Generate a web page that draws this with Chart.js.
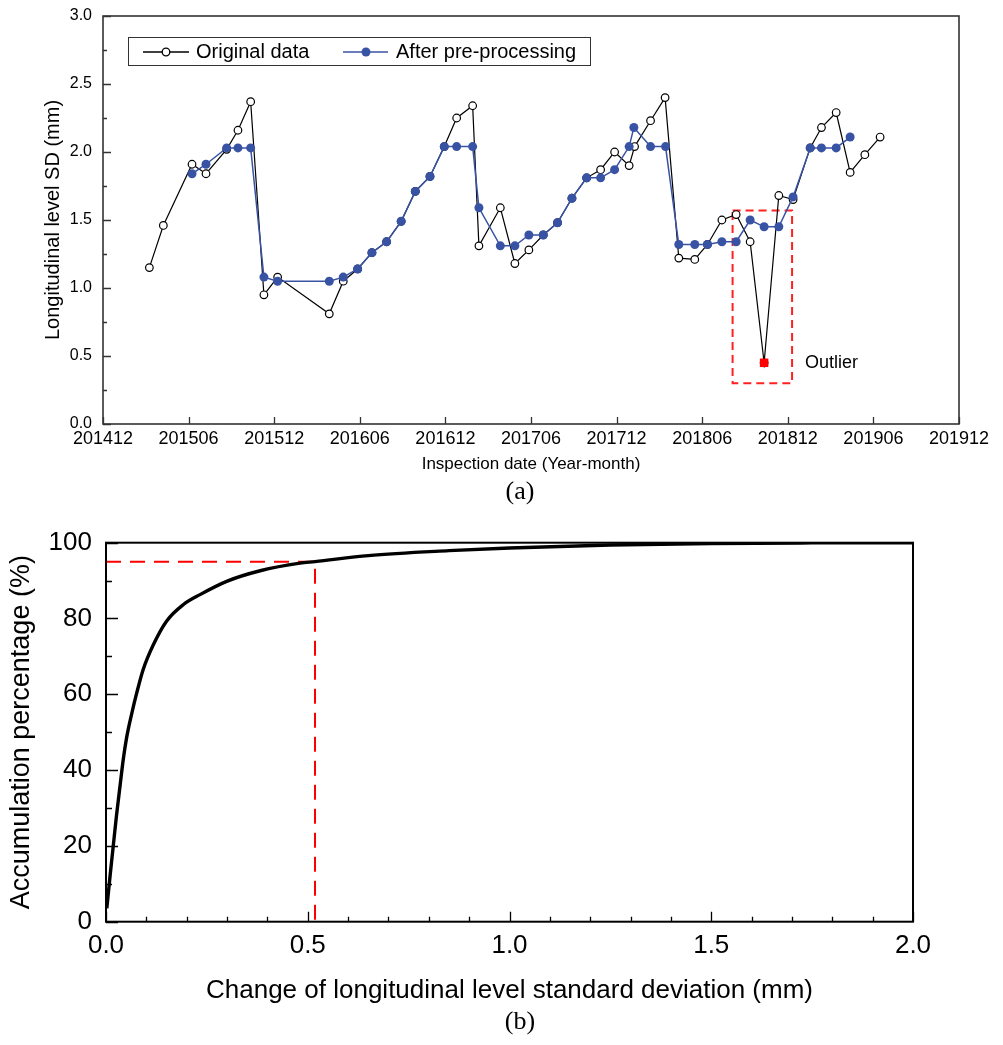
<!DOCTYPE html>
<html>
<head>
<meta charset="utf-8">
<script src="https://cdn.jsdelivr.net/npm/chart.js@4/dist/chart.umd.min.js"></script>
<style>
  html, body { margin: 0; padding: 0; background: #fff; }
  #wrap { position: relative; width: 1003px; height: 1045px; }
  canvas { position: absolute; left: 0; }
  #chartA { top: 0; }
  #chartB { top: 500px; }
  .cap { position: absolute; width: 60px; left: 490px; text-align: center;
         font-family: 'Liberation Serif', 'Times New Roman', serif; font-size: 26px; color: #000; }
</style>
</head>
<body>
<div id="wrap">
  <canvas id="chartA" width="1003" height="500"></canvas>
  <canvas id="chartB" width="1003" height="520"></canvas>
  <div class="cap" style="top:476px">(a)</div>
  <div class="cap" style="top:1006px">(b)</div>
</div>
<script>
// ── Data: (a) longitudinal level SD, x = months after 2014-12 ────────────────
const xTickLabelsA = ['201412', '201506', '201512', '201606', '201612', '201706',
                      '201712', '201806', '201812', '201906', '201912'];

const origMonth = [3.25, 4.23, 6.24, 7.22, 8.67, 9.46, 10.35, 11.28, 12.24, 15.86, 16.84,
                   17.85, 18.85, 19.88, 20.9, 21.89, 22.92, 23.92, 24.79, 25.91, 26.35,
                   27.85, 28.87, 29.85, 30.86, 31.86, 32.87, 33.9, 34.88, 35.86, 36.88,
                   37.26, 38.38, 39.4, 40.36, 41.48, 42.37, 43.38, 44.38, 45.36, 46.34,
                   47.37, 48.37, 49.57, 50.36, 51.39, 52.37, 53.4, 54.47];
const origSD    = [1.15, 1.46, 1.91, 1.84, 2.02, 2.16, 2.37, 0.95, 1.08, 0.81, 1.05,
                   1.14, 1.26, 1.34, 1.49, 1.71, 1.82, 2.04, 2.25, 2.34, 1.31,
                   1.59, 1.18, 1.28, 1.39, 1.48, 1.66, 1.81, 1.87, 2.00, 1.90,
                   2.04, 2.23, 2.40, 1.22, 1.21, 1.32, 1.50, 1.54, 1.34, 0.45,
                   1.68, 1.65, 2.03, 2.18, 2.29, 1.85, 1.98, 2.11];

const procMonth = [6.24, 7.22, 8.67, 9.46, 10.35, 11.28, 12.24, 15.86, 16.84, 17.85,
                   18.85, 19.88, 20.9, 21.89, 22.92, 23.92, 24.79, 25.91, 26.35, 27.85,
                   28.87, 29.85, 30.86, 31.86, 32.87, 33.9, 34.88, 35.86, 36.88, 37.21,
                   38.38, 39.43, 40.36, 41.48, 42.37, 43.38, 44.38, 45.36, 46.34, 47.37,
                   48.37, 49.57, 50.36, 51.39, 52.37];
const procSD    = [1.84, 1.91, 2.03, 2.03, 2.03, 1.08, 1.05, 1.05, 1.08, 1.14,
                   1.26, 1.34, 1.49, 1.71, 1.82, 2.04, 2.04, 2.04, 1.59, 1.31,
                   1.31, 1.39, 1.39, 1.48, 1.66, 1.81, 1.81, 1.87, 2.04, 2.18,
                   2.04, 2.04, 1.32, 1.32, 1.32, 1.34, 1.34, 1.50, 1.45, 1.45,
                   1.67, 2.03, 2.03, 2.03, 2.11];

const outlierMonth = [46.34];
const outlierSD    = [0.45];
const boxMonth = [44.13, 48.3, 48.3, 44.13, 44.13];
const boxSD    = [1.57, 1.57, 0.30, 0.30, 1.57];
const outlierLabel = { text: 'Outlier', x: 49.2, y: 0.45 };

// ── Data: (b) cumulative distribution ────────────────────────────────────────
const changeSD = [0.002, 0.010, 0.018, 0.026, 0.035, 0.043, 0.051, 0.064, 0.076, 0.092,
                  0.117, 0.150, 0.192, 0.233, 0.299, 0.382, 0.481, 0.518, 0.65, 0.85,
                  1.0, 1.25, 1.5, 1.75, 2.0];
const accumPct = [3.5, 12, 20, 28, 36, 43, 48.5, 55, 60.3, 66.5,
                  73, 79.3, 83.7, 86.3, 89.8, 92.6, 94.6, 95.0, 96.6, 97.9,
                  98.6, 99.4, 99.8, 99.95, 100];
const refX = [0, 0.518, 0.518];
const refY = [95, 95, 0];

// ── Helpers ──────────────────────────────────────────────────────────────────
const SANS = "'Liberation Sans', Arial, sans-serif";
const BLUE = '#3953a4';
const pts = (xs, ys) => xs.map((x, i) => ({ x, y: ys[i] }));

// frame + inward ticks, drawn from the scales
function framePlugin(cfg) {
  return {
    id: 'frameTicks',
    afterDatasetsDraw(chart) {
      const { ctx, chartArea: a, scales: { x, y } } = chart;
      ctx.save();
      ctx.strokeStyle = cfg.color;
      ctx.lineWidth = cfg.width;
      ctx.strokeRect(a.left, a.top, a.right - a.left, a.bottom - a.top);
      ctx.lineWidth = 1.3;
      ctx.beginPath();
      const yn = Math.round((y.max - y.min) / cfg.yMinor);
      for (let i = 0; i <= yn; i++) {
        const v = y.min + i * cfg.yMinor;
        const major = i % Math.round(cfg.yMajor / cfg.yMinor) === 0;
        const py = Math.round(y.getPixelForValue(v)) + 0.5;
        ctx.moveTo(a.left, py);
        ctx.lineTo(a.left + (major ? cfg.lenMajor : cfg.lenMinor), py);
      }
      const xn = Math.round((x.max - x.min) / cfg.xMinor);
      for (let i = 0; i <= xn; i++) {
        const v = x.min + i * cfg.xMinor;
        const major = i % Math.round(cfg.xMajor / cfg.xMinor) === 0;
        const px = Math.round(x.getPixelForValue(v)) + 0.5;
        ctx.moveTo(px, a.bottom);
        ctx.lineTo(px, a.bottom - (major ? cfg.xLenMajor : cfg.xLenMinor));
      }
      ctx.stroke();
      ctx.restore();
    }
  };
}

// legend box + outlier note for (a)
const legendA = {
  id: 'legendA',
  afterDraw(chart) {
    const { ctx, chartArea: a, scales: { x, y } } = chart;
    ctx.save();
    const bx = a.left + 25, by = a.top + 21;
    ctx.fillStyle = '#fff';
    ctx.fillRect(bx, by, 462, 28);
    ctx.strokeStyle = '#333';
    ctx.lineWidth = 1;
    ctx.strokeRect(bx + 0.5, by + 0.5, 462, 28);
    const cy = by + 15;
    // original
    ctx.strokeStyle = '#000'; ctx.lineWidth = 1.3;
    ctx.beginPath(); ctx.moveTo(bx + 15, cy); ctx.lineTo(bx + 61, cy); ctx.stroke();
    ctx.beginPath(); ctx.arc(bx + 38, cy, 3.8, 0, Math.PI * 2);
    ctx.fillStyle = '#fff'; ctx.fill(); ctx.stroke();
    // processed
    ctx.strokeStyle = BLUE; ctx.lineWidth = 1.5;
    ctx.beginPath(); ctx.moveTo(bx + 215, cy); ctx.lineTo(bx + 260, cy); ctx.stroke();
    ctx.beginPath(); ctx.arc(bx + 238, cy, 4.5, 0, Math.PI * 2);
    ctx.fillStyle = BLUE; ctx.fill();
    ctx.fillStyle = '#000';
    ctx.font = '20px ' + SANS;
    ctx.textBaseline = 'middle';
    ctx.fillText('Original data', bx + 68, cy);
    ctx.fillText('After pre-processing', bx + 268, cy);
    ctx.font = '18px ' + SANS;
    ctx.fillText(outlierLabel.text, x.getPixelForValue(outlierLabel.x), y.getPixelForValue(outlierLabel.y));
    ctx.restore();
  }
};

// ── Chart (a) ────────────────────────────────────────────────────────────────
new Chart(document.getElementById('chartA'), {
  type: 'line',
  data: {
    datasets: [
      {
        label: 'Outlier', data: pts(outlierMonth, outlierSD), order: 0,
        showLine: false, pointStyle: 'rect', pointRadius: 6,
        pointBackgroundColor: '#ff0000', pointBorderColor: '#ff0000', pointBorderWidth: 0
      },
      {
        label: 'After pre-processing', data: pts(procMonth, procSD), order: 1,
        borderColor: BLUE, borderWidth: 1.5,
        pointRadius: 4.5, pointBackgroundColor: BLUE, pointBorderColor: BLUE, pointBorderWidth: 0
      },
      {
        label: 'Original data', data: pts(origMonth, origSD), order: 2,
        borderColor: '#000', borderWidth: 1.2,
        pointRadius: 3.8, pointBackgroundColor: '#fff', pointBorderColor: '#000', pointBorderWidth: 1.2
      },
      {
        label: 'box', data: pts(boxMonth, boxSD), order: 3,
        borderColor: '#ff2020', borderWidth: 2, borderDash: [8, 5], pointRadius: 0
      }
    ]
  },
  options: {
    responsive: false,
    animation: false,
    devicePixelRatio: 1,
    layout: { padding: { top: 16, right: 44, left: 0, bottom: 0 } },
    plugins: { legend: { display: false }, tooltip: { enabled: false } },
    scales: {
      x: {
        type: 'linear', min: 0, max: 60,
        afterFit: s => { s.height = 76; },
        grid: { display: false, drawTicks: false },
        border: { display: false },
        ticks: {
          stepSize: 6, padding: 4, color: '#000', maxRotation: 0,
          font: { family: SANS, size: 18 },
          callback: (v, i) => xTickLabelsA[i]
        },
        title: {
          display: true, text: 'Inspection date (Year-month)', color: '#000',
          font: { family: SANS, size: 17 }, padding: { top: 0, bottom: 25 }
        }
      },
      y: {
        min: 0, max: 3,
        afterFit: s => { s.width = 103; s.paddingTop = 0; s.paddingBottom = 0; },
        grid: { display: false, drawTicks: false },
        border: { display: false },
        ticks: {
          stepSize: 0.5, padding: 11, color: '#000',
          font: { family: SANS, size: 16 },
          callback: v => v.toFixed(1)
        },
        title: {
          display: true, text: 'Longitudinal level SD (mm)', color: '#000',
          font: { family: SANS, size: 20 }, padding: { top: 41, bottom: 0 }
        }
      }
    }
  },
  plugins: [
    framePlugin({ color: '#333', width: 1.6, yMajor: 0.5, yMinor: 0.25, lenMajor: 8, lenMinor: 4,
                  xMajor: 6, xMinor: 6, xLenMajor: 7, xLenMinor: 7 }),
    legendA
  ]
});

// ── Chart (b) ────────────────────────────────────────────────────────────────
new Chart(document.getElementById('chartB'), {
  type: 'line',
  data: {
    datasets: [
      {
        label: 'Accumulation', data: pts(changeSD, accumPct), order: 0,
        borderColor: '#000', borderWidth: 3.4, cubicInterpolationMode: 'monotone', pointRadius: 0
      },
      {
        label: '95%', data: pts(refX, refY), order: 1,
        borderColor: '#ff0000', borderWidth: 2, borderDash: [15, 9], pointRadius: 0
      }
    ]
  },
  options: {
    responsive: false,
    animation: false,
    devicePixelRatio: 1,
    layout: { padding: { top: 42.7, right: 90, left: 0, bottom: 0 } },
    plugins: { legend: { display: false }, tooltip: { enabled: false } },
    scales: {
      x: {
        type: 'linear', min: 0, max: 2,
        afterFit: s => { s.height = 98.3; },
        grid: { display: false, drawTicks: false },
        border: { display: false },
        ticks: {
          stepSize: 0.5, padding: 9, color: '#000', maxRotation: 0,
          font: { family: SANS, size: 26 },
          callback: v => v.toFixed(1)
        },
        title: {
          display: true, text: 'Change of longitudinal level standard deviation (mm)', color: '#000',
          font: { family: SANS, size: 26 }, padding: { top: 0, bottom: 14 }
        }
      },
      y: {
        min: 0, max: 100,
        afterFit: s => { s.width = 106; },
        grid: { display: false, drawTicks: false },
        border: { display: false },
        ticks: {
          stepSize: 20, padding: 14, color: '#000',
          font: { family: SANS, size: 26 }
        },
        title: {
          display: true, text: 'Accumulation percentage (%)', color: '#000',
          font: { family: SANS, size: 27 }, padding: { top: 5, bottom: 0 }
        }
      }
    }
  },
  plugins: [
    framePlugin({ color: '#000', width: 2, yMajor: 20, yMinor: 10, lenMajor: 12, lenMinor: 6,
                  xMajor: 0.5, xMinor: 0.1, xLenMajor: 10, xLenMinor: 5 })
  ]
});
</script>
</body>
</html>
